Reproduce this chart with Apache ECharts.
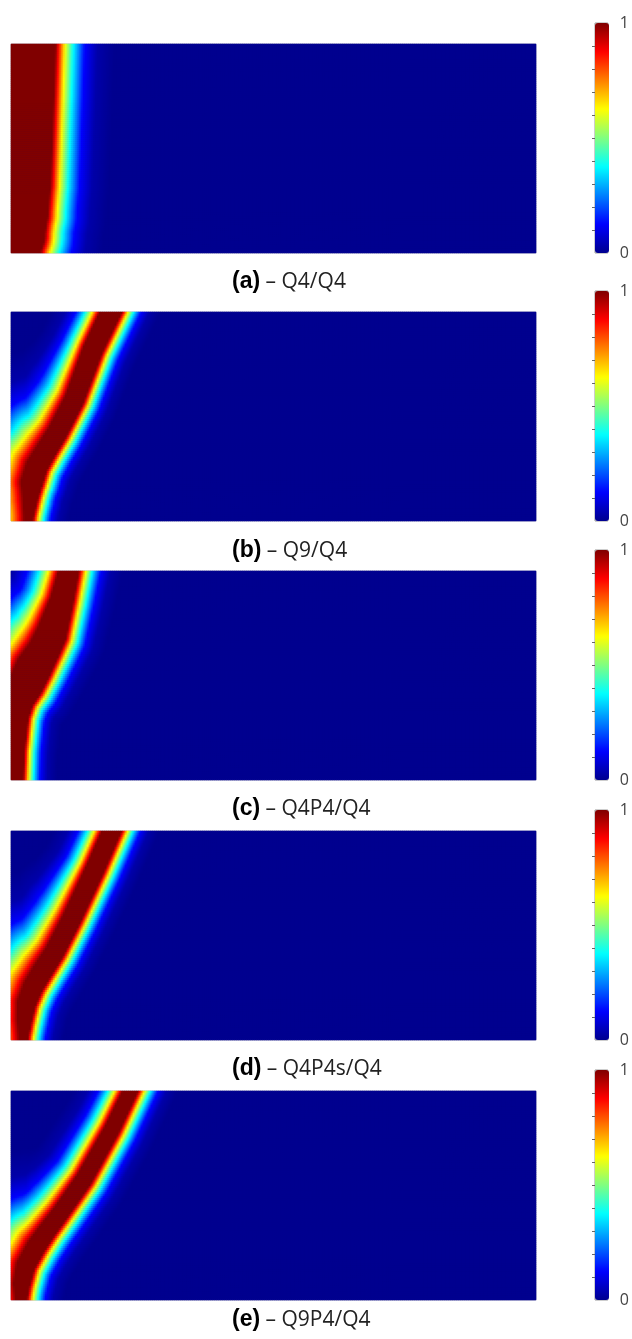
<!DOCTYPE html>
<html><head><meta charset="utf-8">
<script src="https://cdn.jsdelivr.net/npm/echarts@6/dist/echarts.min.js"></script>
<style>html,body{margin:0;padding:0;background:#fff}#main{width:632px;height:1339px}</style>
</head><body><div id="main"></div>
<script>
// ---- data ----
const panelLabels = ['(a)', '(b)', '(c)', '(d)', '(e)'];
const panelNames = ['– Q4/Q4', '– Q9/Q4', '– Q4P4/Q4', '– Q4P4s/Q4', '– Q9P4/Q4'];
const colorbarTicks = [0, 1];
// field domain (units across x 0..525, y 0..209, y downward)
const fieldWidth = 525;
const fieldHeight = 209;
const gridCols = 263;
const gridRows = 105;
// damage profile: distance beyond the fully-damaged core -> damage value
const profileDist = [0, 1.5, 4.5, 8.5, 14, 20, 28];
const profileVal = [1, 0.875, 0.625, 0.375, 0.125, 0.03, 0];
// crack centre-lines: [x, y, core half-width, left-flank scale, right-flank scale]
const crackA = [[0,-8,45,1,2.1],[0,50,43,1,2.1],[0,103,41,1,2.1],[0,140,39.5,1,2.1],[0,169,37,1,2.1],[0,190,34,1,2.1],[0,217,28,1,2.1]];
const crackB = [[104,-8,10,1.5,1.25],[82,38,9.8,1.6,1.25],[63.5,88,9.5,2.2,1.25],[46.5,121,9.6,2.7,1.25],[36,138,9.9,3.3,1.25],[26,155,10.5,3.7,1.25],[21,171,10.5,3.7,1.25],[19.5,188,7,3.8,1.25],[18,205,4.5,3.5,1.25],[17.5,217,4,3.5,1.25]];
const crackC = [[60,-8,9.5,2.1,1.55],[51,30,11.5,2.2,1.5],[40.5,64,15,2.8,1.45],[33,80,15.5,3.3,1.4],[23,97,17.5,3.2,1.35],[15,114,17,3,1.3],[7.5,128,15.5,2.6,1.25],[3.5,145,14,2.2,1.2],[1,180,12.5,2,1.2],[0,217,12,2,1.2]];
const crackD = [[104.5,-8,9,1.5,1.25],[84,39,9.2,1.6,1.25],[60.5,89,9.2,2.2,1.25],[43.5,122,9.3,2.7,1.25],[32,140,9.6,3.3,1.25],[22.5,156,9.5,3.7,1.25],[16,172,9,3.8,1.25],[13.8,189,7,3.8,1.25],[12.8,206,4.5,3.5,1.25],[12.5,217,4,3.5,1.25]];
const crackE = [[123.5,-8,7,1.5,1.3],[101,39,7.5,1.6,1.3],[73,89,8,1.75,1.3],[50,122,8,2.2,1.3],[36.5,140,8.5,2.5,1.3],[25.5,156,9,3.2,1.3],[15,175,9,3.3,1.3],[11,193,8,3.3,1.3],[10.5,206,6,3.2,1.3],[10.5,217,5,3.2,1.3]];
const panelCracks = [[crackA], [crackB], [crackC], [crackD], [crackE]];

// ---- layout ----
const plotLeft = 11, plotWidth = 525, plotHeight = 209;
const plotTops = [44, 312, 571, 831, 1091];
const cbLeft = 595, cbWidth = 14, cbExtra = 21;
const captionX = 232;
const captionYs = [282, 551, 809, 1069, 1320];
const jet = ['#00008f','#0000ff','#0080ff','#00ffff','#80ff80','#ffff00','#ff8000','#ff0000','#800000'];

function profile(t) {
  if (t <= 0) return 1;
  for (let k = 1; k < profileDist.length; k++) {
    if (t <= profileDist[k]) {
      const f = (t - profileDist[k-1]) / (profileDist[k] - profileDist[k-1]);
      return profileVal[k-1] + f * (profileVal[k] - profileVal[k-1]);
    }
  }
  return 0;
}
function crackValue(crack, px, py) {
  let best = 0;
  for (let s = 0; s < crack.length - 1; s++) {
    const [x0,y0,c0,l0,r0] = crack[s], [x1,y1,c1,l1,r1] = crack[s+1];
    const dx = x1-x0, dy = y1-y0, L2 = dx*dx+dy*dy;
    let t = ((px-x0)*dx + (py-y0)*dy) / L2;
    t = Math.max(0, Math.min(1, t));
    const d = Math.hypot(px-(x0+t*dx), py-(y0+t*dy));
    const core = c0 + t*(c1-c0);
    const cross = dx*(py-y0) - dy*(px-x0);
    const sc = cross > 0 ? l0 + t*(l1-l0) : r0 + t*(r1-r0);
    const v = profile((d-core)/sc);
    if (v > best) best = v;
  }
  return best;
}
const colIdx = Array.from({length: gridCols}, (_, i) => i);
const rowIdx = Array.from({length: gridRows}, (_, j) => j);
const panelData = panelCracks.map(cracks => {
  const out = [];
  for (let j = 0; j < gridRows; j++) {
    const py = (j + 0.5) * fieldHeight / gridRows;
    for (let i = 0; i < gridCols; i++) {
      const px = (i + 0.5) * fieldWidth / gridCols;
      let v = 0;
      for (const c of cracks) v = Math.max(v, crackValue(c, px, py));
      out.push([i, j, Math.round(v*1000)/1000]);
    }
  }
  return out;
});

const plotGrids = [], cbGrids = [], plotX = [], cbX = [], plotY = [], cbY = [];
const series = [], visualMaps = [], graphics = [];
for (let p = 0; p < 5; p++) {
  plotGrids.push({left: plotLeft, top: plotTops[p], width: plotWidth, height: plotHeight,
    show: true, backgroundColor: jet[0], borderColor: '#b8b8c8', borderWidth: 1});
  plotX.push({type: 'category', data: colIdx, gridIndex: p, show: false});
  plotY.push({type: 'category', data: rowIdx, gridIndex: p, show: false, inverse: true});
  series.push({type: 'heatmap', xAxisIndex: p, yAxisIndex: p, data: panelData[p],
    progressive: 0, emphasis: {disabled: true}, silent: true});
  const cbTop = plotTops[p] - cbExtra, cbH = plotHeight + cbExtra;
  visualMaps.push({type: 'continuous', seriesIndex: p, min: 0, max: 1, left: cbLeft, top: cbTop,
    itemWidth: cbWidth, itemHeight: cbH, calculable: false, padding: 0, hoverLink: false,
    inRange: {color: jet}});
  cbGrids.push({left: cbLeft, top: cbTop, width: cbWidth, height: cbH,
    show: true, backgroundColor: 'transparent', borderColor: '#9a9a9a', borderWidth: 1});
  cbX.push({type: 'value', gridIndex: 5 + p, show: false, min: 0, max: 1});
  cbY.push({type: 'value', gridIndex: 5 + p, min: colorbarTicks[0], max: colorbarTicks[1], interval: 1,
    position: 'right', axisLine: {show: false}, splitLine: {show: false},
    axisTick: {show: false, inside: true},
    minorTick: {show: true, splitNumber: 10, length: 3, lineStyle: {color: '#666', width: 1}},
    axisLabel: {fontSize: 16, color: '#444', margin: 12, fontFamily: 'Open Sans'}});
  graphics.push({type: 'text', x: captionX, y: captionYs[p],
    style: {text: '{b|' + panelLabels[p] + '}{r| ' + panelNames[p] + '}', verticalAlign: 'middle',
      rich: {b: {fontFamily: 'Liberation Sans', fontWeight: 'bold', fontSize: 23, fill: '#000'},
             r: {fontFamily: 'Open Sans', fontSize: 21, fill: '#222'}}}});
}
const chart = echarts.init(document.getElementById('main'), null, {renderer: 'canvas'});
chart.setOption({animation: false, backgroundColor: '#fff',
  grid: plotGrids.concat(cbGrids), xAxis: plotX.concat(cbX), yAxis: plotY.concat(cbY),
  visualMap: visualMaps, series: series, graphic: graphics});
</script></body></html>
